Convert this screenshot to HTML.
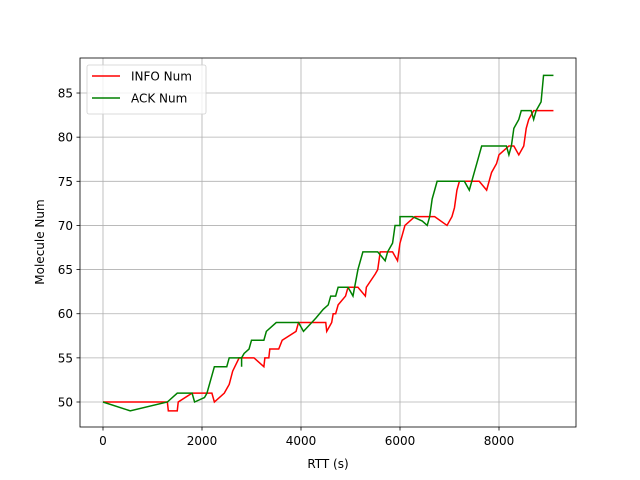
<!DOCTYPE html>
<html><head><meta charset="utf-8"><style>
body{margin:0;background:#fff;}
svg{display:block;font-family:"DejaVu Sans","Liberation Sans",sans-serif;}
</style></head><body>
<svg id="chart" width="640" height="480"></svg>
<script>
const infoX=[0,1300,1320,1500,1520,1800,2200,2250,2450,2550,2620,2750,3050,3250,3270,3350,3370,3550,3620,3900,3950,4500,4520,4620,4650,4700,4750,4900,4950,5150,5300,5320,5500,5550,5600,5850,5950,6000,6050,6100,6300,6700,6950,7050,7100,7150,7200,7600,7750,7850,7950,8000,8200,8300,8400,8500,8550,8600,8700,9100];
const infoY=[50,50,49,49,50,51,51,50,51,52,53.5,55,55,54,55,55,56,56,57,58,59,59,58,59,60,60,61,62,63,63,62,63,64.5,65,67,67,66,68,69,70,71,71,70,71,72,74,75,75,74,76,77,78,79,79,78,79,81,82,83,83];
const ackX=[0,550,1300,1500,1800,1850,2050,2100,2200,2250,2500,2550,2800,2800,2800,2850,2950,3000,3250,3300,3400,3500,3950,4050,4300,4450,4550,4600,4700,4750,4950,5000,5050,5150,5250,5550,5700,5750,5850,5900,6000,6000,6250,6450,6550,6600,6650,6700,6750,7300,7400,7500,7550,7600,7650,8150,8200,8250,8300,8400,8450,8650,8700,8750,8850,8900,9100];
const ackY=[50,49,50,51,51,50,50.5,51,53,54,54,55,55,54,55,55.5,56,57,57,58,58.5,59,59,58,59.5,60.5,61,62,62,63,63,62.5,62,65,67,67,66,67,68,70,70,71,71,70.5,70,71,73,74,75,75,74,76,77,78,79,79,78,79,81,82,83,83,82,83,84,87,87];
const xTicks=[0,2000,4000,6000,8000];
const yTicks=[50,55,60,65,70,75,80,85];
const NS="http://www.w3.org/2000/svg";
const svg=document.getElementById('chart');
const L=80,R=576,T=58,B=427;
const sx=v=>103+v*0.0495;
const sy=v=>402-(v-50)*8.828;
function el(t,a,p){const e=document.createElementNS(NS,t);for(const k in a)e.setAttribute(k,a[k]);(p||svg).appendChild(e);return e;}
xTicks.forEach(v=>{
 const g=el('line',{x1:sx(v),x2:sx(v),y1:T,y2:B,stroke:'#b0b0b0','stroke-width':0.8});
 
 
 el('line',{x1:sx(v),x2:sx(v),y1:B,y2:B+3.5,stroke:'#000','stroke-width':0.8});
 const t=el('text',{x:sx(v),y:B+18,'text-anchor':'middle','font-size':12});
 t.textContent=v;
 
 
});
yTicks.forEach(v=>{
 const g=el('line',{x1:L,x2:R,y1:sy(v),y2:sy(v),stroke:'#b0b0b0','stroke-width':0.8});
 
 
 el('line',{x1:L-3.5,x2:L,y1:sy(v),y2:sy(v),stroke:'#000','stroke-width':0.8});
 const t=el('text',{x:L-7,y:sy(v)+4.5,'text-anchor':'end','font-size':12});
 t.textContent=v;
 
 
});
function series(xs,ys,c,name){
 const p=el('polyline',{points:xs.map((x,i)=>sx(x)+','+sy(ys[i])).join(' '),fill:'none',stroke:c,'stroke-width':1.5});
 
 
}
series(infoX,infoY,'#ff0000','info-num-line');
series(ackX,ackY,'#008000','ack-num-line');
const fr=el('rect',{x:L,y:T,width:R-L,height:B-T,fill:'none',stroke:'#000','stroke-width':0.8});


const xl=el('text',{x:328,y:468,'text-anchor':'middle','font-size':12});
xl.textContent='RTT (s)';


const yl=el('text',{x:44,y:242,'text-anchor':'middle','font-size':12,transform:'rotate(-90 44 242)'});
yl.textContent='Molecule Num';


const lg=el('g',{});


el('rect',{x:87,y:65,width:119,height:49,rx:2,fill:'#fff','fill-opacity':0.8,stroke:'#d0d0d0','stroke-width':0.8},lg);
[['INFO Num','#ff0000',76],['ACK Num','#008000',98]].forEach(([n,c,y])=>{
 const e=el('g',{},lg);
 
 
 el('line',{x1:92,x2:120,y1:y,y2:y,stroke:c,'stroke-width':1.5},e);
 const t=el('text',{x:131,y:y+4.5,'font-size':12},e);t.textContent=n;
});
</script>
</body></html>
